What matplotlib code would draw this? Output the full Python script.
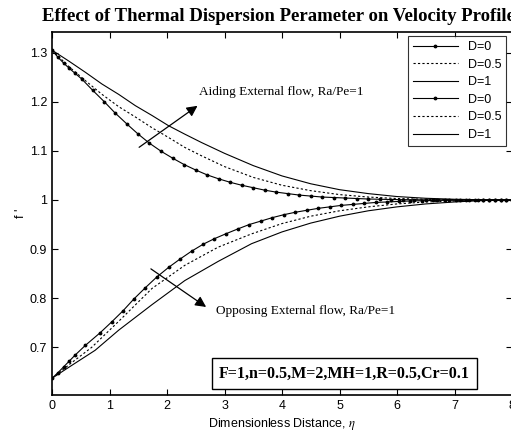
import matplotlib
matplotlib.use("Agg")
import matplotlib.pyplot as plt

# --- dados ---
# aiding (ramo superior)
eta_a0 = [0, 0.1, 0.2, 0.3, 0.4, 0.52, 0.71, 0.91, 1.09, 1.3, 1.49, 1.69, 1.9, 2.1,
          2.3, 2.5, 2.7, 2.9, 3.1, 3.3, 3.5, 3.7, 3.9, 4.1, 4.3, 4.5, 4.7, 4.9, 5.1,
          5.3, 5.5, 5.7, 5.9, 6.1, 6.3, 6.5, 6.7, 6.9, 7.1, 7.25, 7.4, 7.5, 7.6, 7.7,
          7.8, 7.9, 8.0]
f_a0 = [1.305, 1.291, 1.279, 1.268, 1.258, 1.246, 1.223, 1.200, 1.178, 1.155, 1.135,
        1.116, 1.099, 1.085, 1.072, 1.061, 1.051, 1.043, 1.036, 1.030, 1.025, 1.020,
        1.016, 1.013, 1.010, 1.008, 1.006, 1.005, 1.004, 1.003, 1.002, 1.0015, 1.001,
        1.0007, 1.0005, 1.0003, 1.0002, 1.0001, 1.0, 1.0, 1.0, 1.0, 1.0, 1.0, 1.0,
        1.0, 1.0]
eta_a05 = [0, 0.29, 0.58, 0.87, 1.16, 1.45, 1.74, 2.03, 2.31, 2.6, 3.0, 3.5, 4.0,
           4.5, 5.0, 5.5, 6.0, 6.5, 7.0, 7.5, 8.0]
f_a05 = [1.305, 1.272, 1.243, 1.215, 1.190, 1.169, 1.147, 1.127, 1.107, 1.090,
         1.068, 1.046, 1.030, 1.019, 1.011, 1.006, 1.003, 1.0015, 1.0005, 1.0, 1.0]
eta_a1 = [0, 0.29, 0.58, 0.87, 1.16, 1.45, 1.74, 2.03, 2.31, 2.6, 3.0, 3.5, 4.0,
          4.5, 5.0, 5.5, 6.0, 6.5, 7.0, 7.5, 8.0]
f_a1 = [1.305, 1.283, 1.260, 1.236, 1.215, 1.192, 1.172, 1.151, 1.134, 1.117,
        1.095, 1.070, 1.049, 1.033, 1.021, 1.013, 1.007, 1.0035, 1.0015, 1.0005, 1.0]

# opposing (ramo inferior)
eta_o0 = [0, 0.1, 0.2, 0.3, 0.4, 0.58, 0.84, 1.04, 1.24, 1.42, 1.62, 1.82, 2.03,
          2.23, 2.43, 2.63, 2.82, 3.02, 3.23, 3.43, 3.63, 3.83, 4.03, 4.23, 4.43,
          4.63, 4.83, 5.03, 5.23, 5.43, 5.63, 5.83, 6.03, 6.23, 6.43, 6.63, 6.83,
          7.03, 7.2, 7.35, 7.5, 7.6, 7.7, 7.8, 7.9, 8.0]
f_o0 = [0.637, 0.648, 0.660, 0.672, 0.684, 0.704, 0.730, 0.752, 0.775, 0.798, 0.821,
        0.843, 0.863, 0.880, 0.896, 0.910, 0.921, 0.931, 0.941, 0.950, 0.957, 0.964,
        0.970, 0.975, 0.979, 0.983, 0.986, 0.989, 0.991, 0.993, 0.995, 0.996, 0.997,
        0.998, 0.9985, 0.999, 0.9995, 1.0, 1.0, 1.0, 1.0, 1.0, 1.0, 1.0, 1.0, 1.0]
eta_o05 = [0, 0.3, 0.69, 1.16, 1.74, 2.31, 2.89, 3.47, 4.0, 4.5, 5.0, 5.5, 6.0,
           6.5, 7.0, 7.5, 8.0]
f_o05 = [0.637, 0.665, 0.700, 0.753, 0.820, 0.867, 0.904, 0.931, 0.952, 0.967,
         0.978, 0.986, 0.992, 0.996, 0.998, 0.9995, 1.0]
eta_o1 = [0, 0.3, 0.75, 1.16, 1.74, 2.31, 2.89, 3.47, 4.0, 4.5, 5.0, 5.5, 6.0,
          6.5, 7.0, 7.5, 8.0]
f_o1 = [0.637, 0.660, 0.694, 0.735, 0.787, 0.836, 0.875, 0.911, 0.935, 0.953,
        0.967, 0.978, 0.986, 0.992, 0.996, 0.999, 1.0]

labels = ["D=0", "D=0.5", "D=1", "D=0", "D=0.5", "D=1"]
xticks = [0, 1, 2, 3, 4, 5, 6, 7, 8]
yticks = [0.7, 0.8, 0.9, 1.0, 1.1, 1.2, 1.3]
ytick_labels = ["0.7", "0.8", "0.9", "1", "1.1", "1.2", "1.3"]

plt.rcParams['font.family'] = ['Liberation Sans', 'DejaVu Sans']
plt.rcParams['mathtext.fontset'] = 'stix'

fig = plt.figure(figsize=(5.11, 4.36), dpi=100)
ax = fig.add_axes([52 / 511, 1 - 395 / 436, 460 / 511, 363 / 436])

ax.plot(eta_a0, f_a0, color='k', lw=0.8, marker='.', ms=3.5, label=labels[0])
ax.plot(eta_a05, f_a05, color='k', lw=0.8, ls=(0, (2, 2)), label=labels[1])
ax.plot(eta_a1, f_a1, color='k', lw=0.8, label=labels[2])
ax.plot(eta_o0, f_o0, color='k', lw=0.8, marker='.', ms=3.5, label=labels[3])
ax.plot(eta_o05, f_o05, color='k', lw=0.8, ls=(0, (2, 2)), label=labels[4])
ax.plot(eta_o1, f_o1, color='k', lw=0.8, label=labels[5])

ax.set_xlim(0, 8)
ax.set_ylim(0.603, 1.342)
ax.set_xticks(xticks)
ax.set_yticks(yticks)
ax.set_yticklabels(ytick_labels)
ax.tick_params(direction='in', top=True, right=True, labelsize=9, length=4, width=0.8)
for s in ax.spines.values():
    s.set_linewidth(1.2)

ax.set_xlabel("Dimensionless Distance, $\\eta$", fontsize=9, labelpad=3)
ax.set_ylabel("f '", fontsize=9, labelpad=2)
ax.set_title("Effect of Thermal Dispersion Perameter on Velocity Profiles",
             family='Liberation Serif', fontweight='bold', fontsize=13.5, pad=8)

# setas e textos
ax.annotate("", xy=(2.57, 1.195), xytext=(1.476, 1.104),
            arrowprops=dict(arrowstyle='-|>', color='k', lw=0.9, mutation_scale=16))
ax.text(2.56, 1.22, "Aiding External flow, Ra/Pe=1", family='Liberation Serif',
        fontsize=9.5, va='center', ha='left')
ax.annotate("", xy=(2.72, 0.779), xytext=(1.68, 0.863),
            arrowprops=dict(arrowstyle='-|>', color='k', lw=0.9, mutation_scale=16))
ax.text(2.86, 0.775, "Opposing External flow, Ra/Pe=1", family='Liberation Serif',
        fontsize=9.5, va='center', ha='left')
ax.text(5.09, 0.647, "F=1,n=0.5,M=2,MH=1,R=0.5,Cr=0.1", family='Liberation Serif',
        fontweight='bold', fontsize=11.5, ha='center', va='center',
        bbox=dict(boxstyle='square,pad=0.45', fc='white', ec='k', lw=1.0))

leg = ax.legend(loc='upper right', bbox_to_anchor=(0.987, 0.989), fontsize=9,
                handlelength=3.6, frameon=True, fancybox=False, edgecolor='k',
                borderpad=0.4, labelspacing=0.45, borderaxespad=0)
leg.get_frame().set_linewidth(0.8)

fig.savefig("out.png", dpi=100)
